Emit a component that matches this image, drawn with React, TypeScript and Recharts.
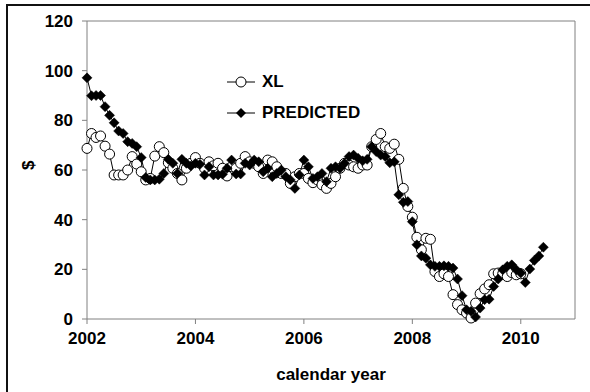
import React from "react";
import { LineChart, Line, XAxis, YAxis, ReferenceLine } from "recharts";

// monthly values starting January 2002
const xlValues = [
  68.7, 74.7, 73.1, 73.7, 69.6, 66.4, 58, 58, 58, 60, 65.4, 62.4,
  59.3, 56, 56.6, 65.6, 69.4, 67, 62.9, 60.7, 58.6, 56, 60.7, 62.7,
  65, 62.7, 60.7, 63.3, 61.7, 62.7, 60.7, 57.6, 61.3, 60.7, 62.7, 65.4,
  63.3, 62.7, 61.3, 58.6, 64, 63.3, 61.3, 58.6, 58.6, 54.6, 57.3, 58.6,
  58.6, 56.6, 54.9, 56, 54, 52.6, 54.6, 57.3, 60.7, 62.7, 62, 61.3,
  60.7, 62, 62, 69.4, 72.3, 74.7, 69.4, 68.7, 70.4, 64.3, 52.6, 45.3,
  41, 32.9, 27.9, 32.5, 32.1, 19.1, 17.1, 18.2, 17.1, 9.8, 5.8, 3.7,
  2.4, 0.4, 6.4, 10.2, 12.1, 13.8, 18.2, 18.5, 18.2, 17.1, 18.7, 17.8,
  18.2,
];

const predictedValues = [
  97.1, 89.9, 90, 90, 85.5, 82, 79, 75.7, 74.7, 71.4, 70.7, 69.4,
  65, 57, 56, 56, 56.3, 58.6, 64.3, 62.7, 58.6, 64.3, 62.7, 61.6,
  62.7, 62.3, 58, 61.3, 58, 58, 58.3, 60.7, 64, 58.4, 58.4, 62.7,
  62, 64, 63.3, 59.3, 60.7, 57.3, 58.6, 60, 57.3, 56, 52.6, 58,
  64, 61.3, 56.6, 57.3, 58.6, 55.3, 60.7, 61.3, 60.7, 62.7, 65.4, 66,
  64.7, 63.7, 64.3, 69.4, 67.4, 66, 65.4, 62.9, 63.3, 50, 47, 47.3,
  39.2, 29.9, 25.4, 24.5, 21.8, 21.2, 21.2, 21.4, 21.2, 20.5, 16.1, 9.4,
  3.7, 3.1, 0.8, 4.4, 7.8, 8, 13.1, 16.1, 19.8, 21.2, 21.8, 19.8,
  18.5, 14.7, 20.1, 23.6, 25.4, 28.9,
];

const xTicks = [2002, 2004, 2006, 2008, 2010];
const yTicks = [0, 20, 40, 60, 80, 100, 120];

const startYear = 2002;

const data = predictedValues.map((p, i) => ({
  year: startYear + i / 12,
  xl: i < xlValues.length ? xlValues[i] : null,
  predicted: p,
}));

const font = "'Liberation Sans', Arial, sans-serif";
const axisGray = "#808080";

const Diamond = (props: any) => {
  const { cx, cy } = props;
  if (cx == null || cy == null) return null;
  const s = 5;
  return (
    <polygon
      points={`${cx},${cy - s} ${cx + s},${cy} ${cx},${cy + s} ${cx - s},${cy}`}
      fill="#000"
      stroke="#000"
      strokeWidth={0.5}
    />
  );
};

const LegendBox = () => (
  <div
    style={{
      position: "absolute",
      left: 227,
      top: 66,
      fontFamily: font,
      fontWeight: "bold",
      fontSize: 17,
    }}
  >
    <div style={{ display: "flex", alignItems: "center", height: 31 }}>
      <svg width={30} height={14} style={{ marginRight: 5 }}>
        <line x1={0} y1={7} x2={28} y2={7} stroke="#000" strokeWidth={1} />
        <circle cx={14} cy={7} r={5} fill="#fff" stroke="#000" strokeWidth={1} />
      </svg>
      <span>XL</span>
    </div>
    <div style={{ display: "flex", alignItems: "center", height: 31 }}>
      <svg width={30} height={14} style={{ marginRight: 5 }}>
        <line x1={0} y1={7} x2={28} y2={7} stroke="#000" strokeWidth={1} />
        <polygon points="14,2 19,7 14,12 9,7" fill="#000" />
      </svg>
      <span>PREDICTED</span>
    </div>
  </div>
);

export default function App() {
  const tickStyle = {
    fontFamily: font,
    fontWeight: "bold",
    fontSize: 17,
    fill: "#000",
  };
  return (
    <div
      style={{
        position: "absolute",
        left: 0,
        top: 0,
        width: 590,
        height: 392,
        overflow: "hidden",
        background: "#fff",
      }}
    >
      <div
        style={{
          position: "absolute",
          left: 6,
          top: 4,
          width: 600,
          height: 400,
          border: "2px solid #111",
          boxSizing: "border-box",
        }}
      />
      <LineChart
        width={590}
        height={392}
        data={data}
        margin={{ top: 21, right: 15, bottom: 0, left: 0 }}
        style={{ position: "absolute", left: 0, top: 0 }}
      >
        <XAxis
          type="number"
          dataKey="year"
          domain={[2002, 2011]}
          ticks={xTicks}
          tickFormatter={(v) => String(v)}
          stroke={axisGray}
          tickSize={5}
          tickMargin={8}
          tick={tickStyle}
          height={73}
          label={{
            value: "calendar year",
            position: "insideBottom",
            offset: 12,
            style: { ...tickStyle },
          }}
        />
        <YAxis
          type="number"
          domain={[0, 120]}
          ticks={yTicks}
          stroke={axisGray}
          tickSize={5}
          tickMargin={9}
          tick={tickStyle}
          width={87}
          label={{
            value: "$",
            angle: -90,
            position: "insideLeft",
            offset: 28,
            style: { ...tickStyle },
          }}
        />
        <ReferenceLine y={120} stroke={axisGray} />
        <ReferenceLine x={2011} stroke={axisGray} />
        <Line
          dataKey="xl"
          stroke="#000"
          strokeWidth={1}
          dot={{ r: 5, fill: "#fff", stroke: "#000", strokeWidth: 1 }}
          isAnimationActive={false}
          connectNulls={false}
        />
        <Line
          dataKey="predicted"
          stroke="#000"
          strokeWidth={1}
          dot={<Diamond />}
          isAnimationActive={false}
        />
      </LineChart>
      <LegendBox />
    </div>
  );
}
